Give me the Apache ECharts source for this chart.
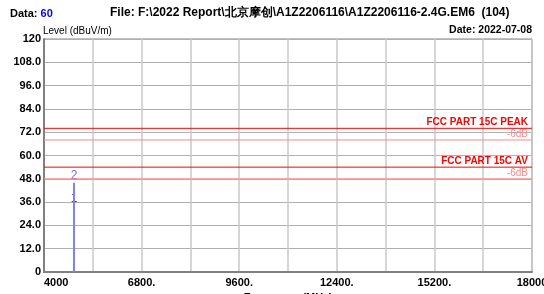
<!DOCTYPE html>
<html>
<head>
<meta charset="utf-8">
<script src="https://cdn.jsdelivr.net/npm/echarts@6/dist/echarts.min.js"></script>
<style>
  html, body { margin: 0; padding: 0; background: #fff; }
  #chart { width: 544px; height: 294px; }
</style>
</head>
<body>
<div id="chart"></div>
<script>
// readings from the plot
const markerFreq = [4860, 4860];
const markerLevel = [34, 46];
const markerNames = ['1', '2'];
const limitNames = ['FCC PART 15C PEAK', 'FCC PART 15C AV'];
const limitLevels = [74, 54];
const marginLevels = [68, 48];
const freqMin = 4000, freqMax = 18000;

const font = 'Liberation Sans, Arial, sans-serif';
const chart = echarts.init(document.getElementById('chart'));

// one flat line series per limit, text on its right end
function limitSeries(level, text, color, bold) {
  return {
    type: 'line', symbol: 'circle', symbolSize: 0, showSymbol: true, silent: true, z: 3,
    lineStyle: { color: color, width: 1 },
    itemStyle: { color: color },
    data: [
      [freqMin, level],
      { value: [freqMax, level], label: { show: true, formatter: text, position: [-4, -1],
        align: 'right', verticalAlign: 'bottom', color: color, fontWeight: bold ? 'bold' : 'normal',
        fontSize: 10, fontFamily: font } }
    ]
  };
}

const limits = [];
limitLevels.forEach((v, i) => {
  limits.push(limitSeries(marginLevels[i], '-6dB', '#ff8888', false));
  limits.push(limitSeries(v, limitNames[i], '#ff0000', true));
});

chart.setOption({
  animation: false,
  textStyle: { fontFamily: font },
  title: [
    { text: 'Data: {b|60}', left: 10, top: 8, padding: 0, textStyle: { fontSize: 11, fontWeight: 'bold', color: '#000',
      rich: { b: { color: '#0000ff', fontSize: 11, fontWeight: 'bold' } } } },
    { text: 'File: F:\\2022 Report\\北京摩创\\A1Z2206116\\A1Z2206116-2.4G.EM6  (104)', left: 110, top: 7, padding: 0,
      textStyle: { fontSize: 12, fontWeight: 'bold', color: '#000', fontFamily: font } },
    { text: 'Level (dBuV/m)', left: 43, top: 26, padding: 0, textStyle: { fontSize: 10, fontWeight: 'normal', color: '#000' } },
    { text: 'Date: 2022-07-08', right: 12, top: 25, padding: 0, textStyle: { fontSize: 10.5, fontWeight: 'bold', color: '#000' } }
  ],
  grid: { left: 44, right: 12, top: 39, bottom: 22, show: true, borderColor: '#808080', borderWidth: 1,
    containLabel: false, outerBoundsMode: 'none' },
  xAxis: {
    type: 'value', min: freqMin, max: freqMax, interval: 1400,
    name: 'Frequency (MHz)', nameLocation: 'middle', nameGap: 19,
    nameTextStyle: { fontSize: 11, fontWeight: 'bold', color: '#000' },
    axisLine: { lineStyle: { color: '#808080', width: 2 } },
    axisTick: { show: false },
    splitLine: { lineStyle: { color: '#c8c8c8', width: 1.5 } },
    axisLabel: {
      color: '#000', fontSize: 11, fontWeight: 'bold', margin: 5,
      alignMinLabel: 'left', alignMaxLabel: 'center',
      formatter: v => {
        if ((v - freqMin) % 2800 !== 0) return '';
        return (v === freqMin || v === freqMax) ? String(v) : v + '.';
      }
    }
  },
  yAxis: {
    type: 'value', min: 0, max: 120, interval: 12,
    axisLine: { show: true, lineStyle: { color: '#808080', width: 2 } },
    axisTick: { show: false },
    splitLine: { lineStyle: { color: '#b0b0b0', width: 1 } },
    axisLabel: {
      color: '#000', fontSize: 11, fontWeight: 'bold', margin: 3,
      formatter: v => (v === 0 || v === 120) ? String(v) : v.toFixed(1)
    }
  },
  series: [
    ...limits,
    {
      type: 'line', symbol: 'none', silent: true,
      data: [[markerFreq[0], 0], [markerFreq[0], Math.max(...markerLevel)]],
      lineStyle: { color: '#8080ff', width: 2 }
    },
    {
      type: 'scatter', symbolSize: 0, silent: true,
      data: markerFreq.map((f, i) => ({ value: [f, markerLevel[i]], name: markerNames[i],
        label: { color: i === 0 ? '#0000dd' : '#4040ff' } })),
      label: { show: true, position: 'top', distance: 1, formatter: '{b}', fontSize: 12, fontFamily: font }
    }
  ]
});
</script>
</body>
</html>
